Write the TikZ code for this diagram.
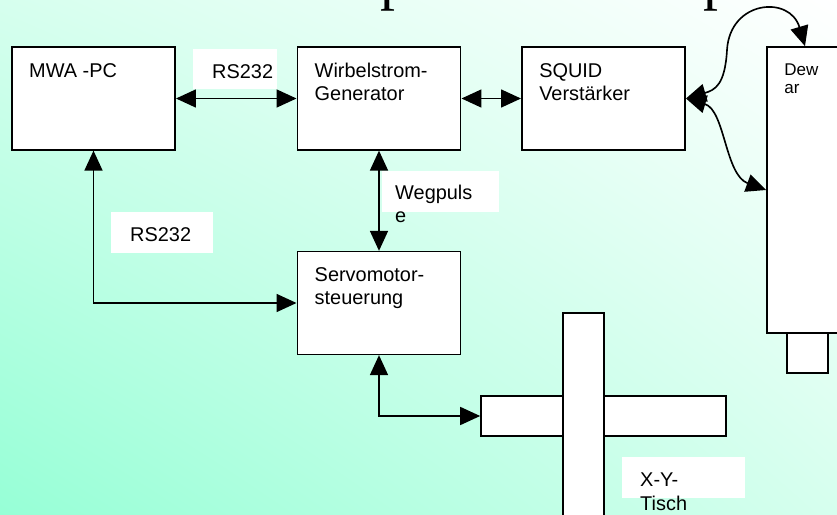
\documentclass[tikz,border=0pt]{standalone}
\usepackage{fontspec}
\setmainfont{Liberation Sans}
\newfontfamily\titelfont{Liberation Serif}
\usetikzlibrary{arrows.meta,shadings}
\definecolor{mintgruen}{RGB}{150,255,214}
\definecolor{mintmitte}{RGB}{214,255,238}

\begin{document}
\begin{tikzpicture}[x=0.03cm, y=-0.03cm,
    >={Triangle[length=0.6cm,width=0.54cm]},
    font=\fontsize{17}{19.6}\selectfont,
    block/.style={draw, rectangle, fill=white, line width=1.4pt, minimum width=4.9cm, minimum height=3.08cm},
    inhalt/.style={anchor=north west, inner sep=0pt, align=left, xshift=0.54cm, yshift=-0.5cm},
    feld/.style={anchor=north west, fill=white, inner ysep=0pt, align=left},
    verbindung/.style={<->, line width=1.4pt}]

    % Hintergrund
    \shade[lower left=mintgruen, upper right=white, upper left=mintmitte, lower right=mintmitte] (0,0) rectangle (837,515);
    \useasboundingbox (0,0) rectangle (837,515);

    % Titel (oben abgeschnitten)
    \node (titelp1) [anchor=base west, inner sep=0pt, font=\titelfont\fontsize{51}{51}\selectfont] at (380,-1) {p};
    \node (titelp2) [anchor=base west, inner sep=0pt, font=\titelfont\fontsize{51}{51}\selectfont] at (703,-1) {p};

    % Hauptbloecke
    \node (mwa) [block, label={[inhalt]north west:MWA -PC}] at (93.5,98.5) {};
    \node (wirbel) [block, label={[inhalt]north west:{Wirbelstrom-\\Generator}}] at (379,98.5) {};
    \node (squid) [block, label={[inhalt]north west:{SQUID\\Verstärker}}] at (603.5,98.5) {};
    \node (servo) [block, label={[inhalt]north west:{Servomotor-\\steuerung}}] at (379,303) {};

    % Dewar
    \node (dewar) [block, minimum width=2.28cm, minimum height=8.58cm,
        label={[inhalt, yshift=-0.03cm, font=\fontsize{14.5}{15.5}\selectfont]north west:{Dew\\ar}}] at (805,190) {};
    \node (dewarfuss) [block, minimum width=1.23cm, minimum height=1.2cm] at (807.5,353) {};

    % X-Y-Tisch
    \node (xbalken) [block, minimum width=7.35cm, minimum height=1.2cm] at (603.5,416) {};
    \node (ybalken) [block, minimum width=1.23cm, minimum height=7.41cm] at (583.5,436.5) {};

    % Verbindungen
    \draw[verbindung] (mwa) -- (wirbel);
    \draw[verbindung] (wirbel) -- (squid);
    \draw[verbindung] (wirbel) -- (servo);
    \draw[verbindung] (mwa.south) |- (servo.west);
    \draw[verbindung] (servo.south) |- (xbalken.west);
    \draw[verbindung] (squid.east) .. controls (715,90) and (725,85) .. (727,50)
        .. controls (730,0) and (790,-5) .. (dewar.north);
    \draw[verbindung] (squid.east) .. controls (725,110) and (725,175) .. (dewar.west);

    % Beschriftungen
    \node (rsoben) [feld, inner xsep=0.57cm, text width=1.38cm, text height=0.87cm, text depth=0.33cm] at (193,49) {RS232};
    \node (rslinks) [feld, inner xsep=0.57cm, text width=1.92cm, text height=0.87cm, text depth=0.36cm] at (111,212) {RS232};
    \node (wegpulse) [feld, inner xsep=0.39cm, text width=2.73cm, text height=0.84cm, text depth=0.39cm] at (382,171) {Wegpuls\\e};
    \node (xytisch) [feld, inner xsep=0.54cm, text width=2.61cm, text height=0.87cm, text depth=0.36cm,
        font=\fontsize{17}{21}\selectfont] at (622,457) {X-Y-\\Tisch};
\end{tikzpicture}
\end{document}
